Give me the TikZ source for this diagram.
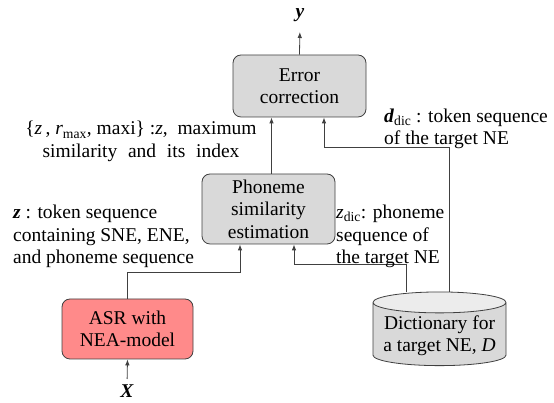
\documentclass[tikz,border=0pt]{standalone}
\usepackage{fontspec}
\setmainfont{Liberation Serif}
\usepackage{tikz}
\usetikzlibrary{arrows.meta}
\usetikzlibrary{shapes.geometric}

\definecolor{boxgray}{HTML}{D9D9D9}
\definecolor{edgegray}{HTML}{404040}
\definecolor{asrpink}{HTML}{FF8A8A}
\definecolor{topgray}{HTML}{ECECEC}

\tikzset{
  block/.style={draw=edgegray, fill=boxgray, rounded corners=8pt, align=center, inner sep=2pt, line width=0.8pt},
  arr/.style={-{Latex[length=6pt, width=4.5pt]}, draw=edgegray, line width=0.8pt},
  note/.style={inner sep=0pt, align=left, anchor=west},
}

\begin{document}
\begin{tikzpicture}[x=1pt, y=1pt, font=\fontsize{19.5}{22.5}\selectfont]
\useasboundingbox (0,0) rectangle (554,403);

\node[block, minimum width=133pt, minimum height=62pt] (ec) at (299.5,317)
  {Error\\correction};
\node[block, minimum width=133pt, minimum height=70pt] (pse) at (268.5,194)
  {Phoneme\\similarity\\estimation};
\node[block, fill=asrpink, minimum width=131pt, minimum height=60pt] (asr) at (127.5,74)
  {ASR with\\NEA-model};
\node[cylinder, shape border rotate=90, draw=edgegray, line width=0.8pt, aspect=0.18,
  cylinder uses custom fill, cylinder body fill=boxgray, cylinder end fill=topgray,
  minimum width=133pt, minimum height=72pt, align=center, inner sep=2pt] (dict) at (439.5,67.5)
  {Dictionary for\\a target NE, \textit{D}};

\node[inner sep=0pt, anchor=south] (yout) at (300,381) {\textbf{\textit{y}}};
\node[inner sep=0pt, anchor=north] (xin) at (127,18) {\textbf{\textit{X}}};

\draw[arr, shorten >=10pt] (ec.north) -- (yout.south);
\draw[arr, shorten <=6pt] (xin.north) -- (asr.south);
\draw[arr] ([xshift=3pt]pse.north) -- ([xshift=3pt]pse.north |- ec.south);
\draw[arr] (asr.north) -- ++(0,26) -| ([xshift=-28.5pt]pse.south);
\draw[arr] ([xshift=-33.5pt]dict.north) -- ++(0,27) -| ([xshift=25.5pt]pse.south);
\draw[arr] ([xshift=9.5pt]dict.north) -- ++(0,144.5) -| ([xshift=24.5pt]ec.south);

\node[note, anchor=center, align=center] (simlab) at (141,261.5)
  {\{\textit{z}\,, \textit{r}\textsubscript{max}, maxi\} :\textit{z},\ \ maximum\\similarity\hspace{0.3em} and\hspace{0.3em} its\hspace{0.3em} index};
\node[note] (zlab) at (13,166.5)
  {\textbf{\textit{z}} : token sequence\\containing SNE, ENE,\\and phoneme sequence};
\node[note] (zdiclab) at (336,166.5)
  {\textit{z}\textsubscript{dic}: phoneme\\sequence of\\the target NE};
\node[note] (ddiclab) at (384,274)
  {\textbf{\textit{d}}\textsubscript{dic} : token sequence\\of the target NE};

\end{tikzpicture}
\end{document}
